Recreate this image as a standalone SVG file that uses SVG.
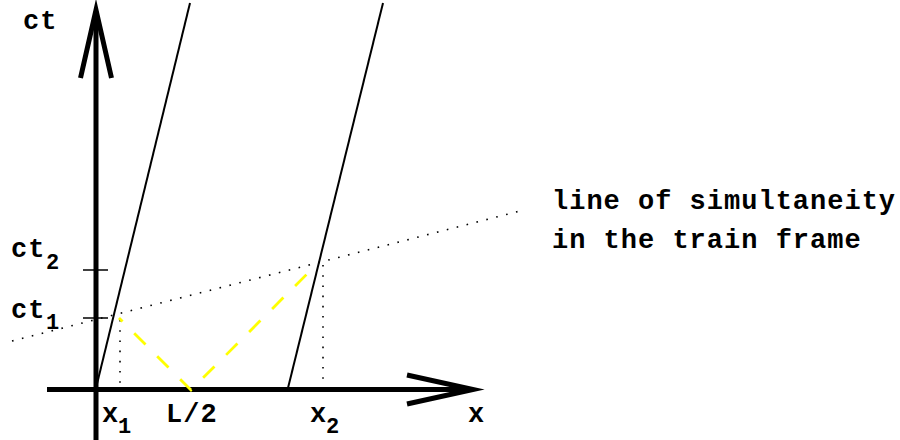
<svg xmlns="http://www.w3.org/2000/svg" width="900" height="440" viewBox="0 0 900 440">
<style>
.axis{fill:none;stroke:#000;stroke-width:5;stroke-linejoin:miter;stroke-miterlimit:20}
.wl{fill:none;stroke:#000;stroke-width:2}
.dot{fill:none;stroke:#000;stroke-width:1.6;stroke-dasharray:1.6 8.6}
.light{fill:none;stroke:#ffff00;stroke-width:2.8;stroke-dasharray:16 16.5;stroke-dashoffset:11}
.tick{stroke:#000;stroke-width:1.5}
text{font-family:"Liberation Mono","DejaVu Sans Mono",monospace;font-weight:bold;font-size:27px;letter-spacing:1px;fill:#000}
.sub{font-size:22px;letter-spacing:0}
</style>
<rect width="900" height="440" fill="#fff"/>
<g id="connectors">
<line class="axis" x1="96" y1="440" x2="96" y2="14"/>
<polyline id="ct-arrow" class="axis" points="80.5,78 96,10 111.5,78"/>
<line class="axis" x1="47" y1="389.5" x2="470" y2="389.5"/>
<polyline id="x-arrow" class="axis" points="407,375 473,389.5 407,404"/>
<line class="tick" x1="83" y1="270" x2="108" y2="270"/>
<line class="tick" x1="83" y1="318" x2="108" y2="318"/>
<line id="worldline1" class="wl" x1="96" y1="388" x2="190" y2="3"/>
<line id="worldline2" class="wl" x1="288" y1="388" x2="383" y2="3"/>
<line id="simultaneity" class="dot" x1="12" y1="341" x2="520" y2="211"/>
<line class="dot" x1="120" y1="320" x2="120" y2="387"/>
<line class="dot" x1="323" y1="265" x2="323" y2="387"/>
<polyline id="light" class="light" points="119,318 191,390 318,263"/>
</g>
<g id="labels">
<text x="23" y="29">ct</text>
<g id="ct2"><text x="11" y="257">ct</text><text class="sub" x="46" y="269">2</text></g>
<g id="ct1"><text x="11" y="318">ct</text><text class="sub" x="46" y="329">1</text></g>
<g id="x1"><text x="102" y="422">x</text><text class="sub" x="118" y="433">1</text></g>
<text id="L2" x="166" y="422">L/2</text>
<g id="x2"><text x="310" y="422">x</text><text class="sub" x="326" y="433">2</text></g>
<text id="xlabel" x="468" y="422">x</text>
<text x="552" y="209">line of simultaneity</text>
<text x="552" y="248">in the train frame</text>
</g>
</svg>
